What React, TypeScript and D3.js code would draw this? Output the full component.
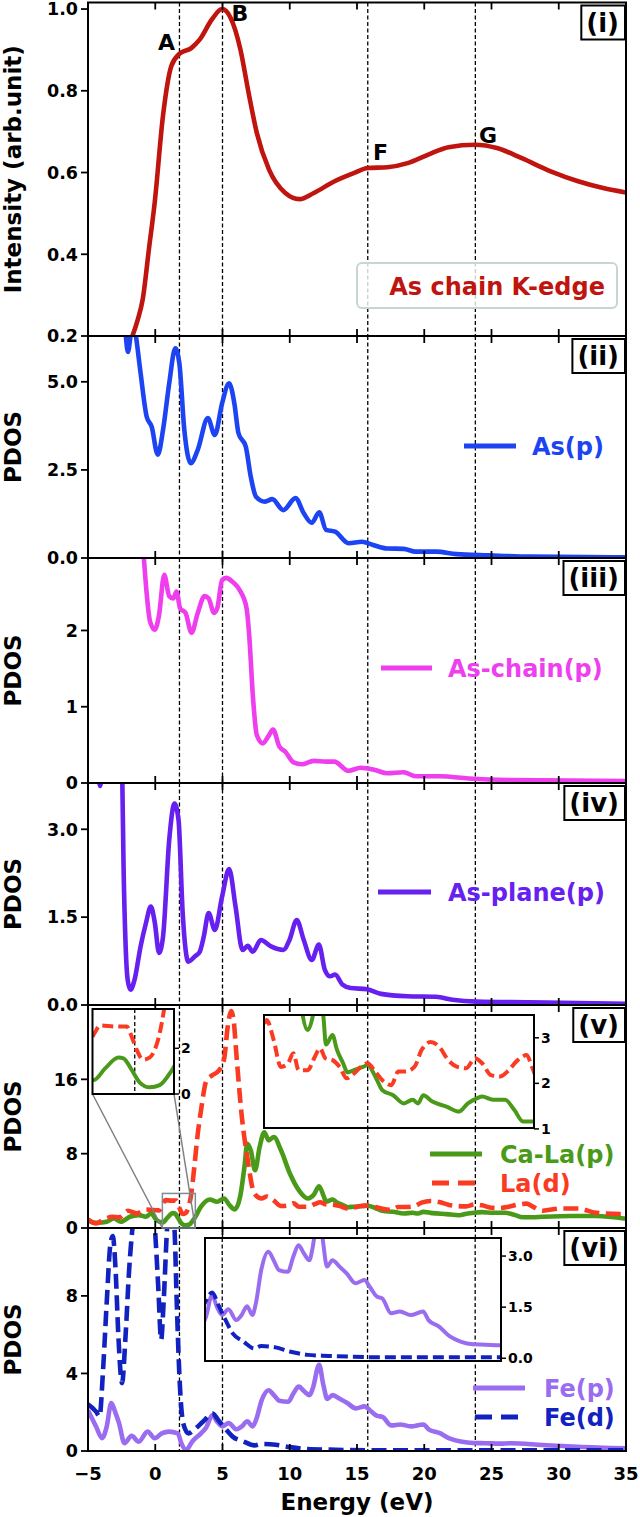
import React, { useEffect, useRef } from 'react';
import * as d3 from 'd3';

type Pt = [number, number];

// ---------- data ----------
const energyTicks = [-5, 0, 5, 10, 15, 20, 25, 30, 35];
const markerEnergies = [1.8, 5.0, 15.8, 23.8];
const markerLabels = ['A', 'B', 'F', 'G'];
const markerLabelE = [0.2, 5.67, 16.19, 24.07];
const markerLabelV = [0.901, 0.97, 0.631, 0.673];

const kEdge: Pt[] = [
  [-2.1, 0.17], [-1.7, 0.2], [-1.3, 0.24], [-0.93, 0.29], [-0.48, 0.41], [-0.03, 0.53],
  [0.58, 0.74], [1.19, 0.86], [1.79, 0.89], [2.7, 0.905], [3.3, 0.925], [4.22, 0.975],
  [4.97, 1.0], [5.58, 0.98], [6.34, 0.9], [6.94, 0.795], [7.55, 0.697], [8.46, 0.607],
  [9.67, 0.55], [10.73, 0.535], [11.79, 0.55], [13.3, 0.578], [14.8, 0.599], [15.8, 0.611],
  [17.25, 0.613], [18.76, 0.623], [20.3, 0.644], [21.8, 0.662], [23.8, 0.668], [25.4, 0.66],
  [27.25, 0.635], [29.4, 0.603], [31.5, 0.578], [33.3, 0.562], [35, 0.551],
];

const asP: Pt[] = [
  [-5, 7.5], [-2.5, 7.0], [-2.25, 6.5], [-2.03, 5.85], [-1.8, 6.4], [-1.6, 6.7], [-1.4, 6.2],
  [-1.09, 5.25], [-0.63, 4.0], [-0.27, 3.73], [0.19, 2.93], [0.58, 3.64], [1.04, 4.96],
  [1.49, 5.95], [1.79, 5.53], [2.16, 3.64], [2.64, 2.69], [3.16, 3.07], [3.91, 3.97],
  [4.43, 3.49], [4.97, 4.39], [5.49, 4.96], [5.88, 4.39], [6.19, 3.54], [6.73, 3.16],
  [7.1, 2.31], [7.49, 1.74], [8.16, 1.6], [8.7, 1.67], [9.52, 1.36], [10.43, 1.7],
  [11.04, 1.27], [11.64, 1.0], [12.19, 1.3], [12.7, 0.8], [13.37, 0.75], [14.37, 0.42],
  [15.37, 0.46], [16.19, 0.37], [17.25, 0.27], [18.46, 0.26], [19.37, 0.18], [20.88, 0.18],
  [22.4, 0.11], [24.8, 0.076], [27.85, 0.04], [35, 0.02],
];

const asChainP: Pt[] = [
  [-5, 4.0], [-1.1, 3.4], [-0.87, 2.99], [-0.63, 2.47], [-0.39, 2.12], [-0.03, 2.01],
  [0.28, 2.2], [0.67, 2.73], [1.04, 2.45], [1.34, 2.42], [1.58, 2.51], [1.85, 2.29],
  [2.25, 2.23], [2.7, 1.97], [3.16, 2.23], [3.67, 2.45], [3.97, 2.42], [4.37, 2.23],
  [4.61, 2.29], [4.97, 2.66], [5.28, 2.69], [5.73, 2.64], [6.34, 2.51], [6.79, 2.29],
  [7.0, 1.9], [7.25, 1.16], [7.55, 0.63], [8.0, 0.52], [8.4, 0.61], [8.76, 0.7],
  [9.22, 0.48], [9.67, 0.41], [10.28, 0.27], [10.88, 0.245], [11.79, 0.29], [12.7, 0.28],
  [13.31, 0.28], [14.37, 0.16], [15.28, 0.2], [16.34, 0.17], [17.25, 0.127], [18.46, 0.14],
  [19.37, 0.088], [21.2, 0.088], [23.3, 0.06], [26.3, 0.04], [35, 0.026],
];

const asPlaneP: Pt[] = [
  [-5, 5.0], [-4.35, 4.2], [-4.1, 3.74], [-3.85, 4.2], [-2.7, 5.0], [-2.45, 3.84],
  [-2.36, 2.42], [-2.2, 1.0], [-2.05, 0.43], [-1.84, 0.26], [-1.54, 0.43], [-1.09, 1.0],
  [-0.69, 1.4], [-0.33, 1.68], [-0.03, 1.4], [0.28, 0.89], [0.58, 1.17], [1.04, 2.82],
  [1.43, 3.44], [1.73, 3.16], [2.04, 1.57], [2.46, 0.74], [2.95, 0.83], [3.31, 0.91],
  [3.61, 1.17], [3.97, 1.57], [4.43, 1.28], [4.97, 1.85], [5.49, 2.32], [5.97, 1.68],
  [6.49, 0.94], [6.88, 1.01], [7.25, 0.91], [7.85, 1.11], [8.61, 1.0], [9.52, 0.94],
  [9.98, 1.11], [10.52, 1.45], [11.04, 1.11], [11.64, 0.77], [12.16, 1.03], [12.61, 0.6],
  [13.0, 0.49], [13.37, 0.52], [13.91, 0.35], [14.52, 0.29], [15.73, 0.27], [16.79, 0.19],
  [18.76, 0.15], [20.88, 0.14], [22.1, 0.09], [23.9, 0.057], [27.85, 0.045], [35, 0.02],
];

const caLaP: Pt[] = [
  [-5, 0.9], [-4.6, 0.6], [-4.27, 0.57], [-3.61, 0.68], [-3.08, 1.04], [-2.55, 0.68],
  [-1.89, 1.21], [-1.23, 1.39], [-0.7, 1.21], [-0.3, 1.57], [0.09, 0.86], [0.57, 0.61],
  [0.91, 1.12], [1.31, 1.6], [1.46, 1.56], [1.71, 1.05], [1.95, 0.5], [2.25, 0.29],
  [2.55, 0.39], [2.92, 1.05], [3.4, 2.29], [4.06, 3.07], [4.59, 2.82], [5.12, 3.18],
  [5.52, 2.46], [5.91, 2.0], [6.31, 3.36], [6.63, 6.57], [6.84, 9.07], [7.1, 8.36],
  [7.42, 6.21], [7.76, 8.71], [8.11, 10.3], [8.43, 9.43], [8.82, 9.79], [9.35, 8.36],
  [10.01, 5.86], [10.67, 4.07], [11.34, 3.17], [11.8, 3.6], [12.18, 4.5], [12.53, 3.4],
  [12.7, 2.85], [13.19, 3.06], [13.5, 2.75], [13.98, 2.44], [14.3, 2.24], [14.77, 2.29],
  [15.44, 2.36], [15.8, 2.4], [16.36, 2.15], [16.89, 1.85], [17.69, 1.74], [18.48, 1.56],
  [19.14, 1.64], [19.54, 1.56], [19.93, 1.74], [20.6, 1.6], [21.65, 1.49], [22.58, 1.38],
  [23.24, 1.56], [23.9, 1.67], [24.3, 1.71], [25.1, 1.64], [26.0, 1.64], [26.68, 1.42],
  [27.34, 1.16], [28.0, 1.16], [28.8, 1.21], [30.91, 1.29], [32.76, 1.29], [35, 1.0],
];

const laD: Pt[] = [
  [-5, 0.9], [-4.4, 0.5], [-3.88, 0.86], [-3.21, 1.21], [-2.69, 1.14], [-2.02, 1.86],
  [-1.36, 1.57], [-0.7, 2.0], [-0.17, 1.93], [0.3, 1.9], [0.59, 2.66], [0.76, 3.0],
  [1.21, 2.95], [1.56, 2.95], [1.71, 2.5], [1.86, 1.93], [2.05, 1.5], [2.25, 1.6],
  [2.4, 1.93], [2.55, 2.66], [2.68, 3.7], [2.9, 6.5], [3.15, 10.0], [3.4, 12.64],
  [3.8, 15.86], [4.19, 16.4], [4.72, 16.93], [5.12, 18.18], [5.38, 21.57], [5.65, 23.36],
  [5.83, 22.3], [6.05, 18.36], [6.44, 11.93], [6.84, 7.64], [7.37, 3.71], [7.9, 3.18],
  [8.3, 3.39], [8.82, 2.95], [9.35, 2.36], [9.88, 2.44], [10.28, 2.66], [10.67, 2.29],
  [11.34, 2.29], [11.87, 2.58], [12.26, 2.77], [12.66, 2.55], [13.19, 2.51], [13.72, 2.36],
  [14.25, 2.11], [14.64, 2.18], [15.3, 2.36], [15.78, 2.44], [16.36, 2.26], [16.89, 2.07],
  [17.55, 1.96], [18.08, 2.26], [18.61, 2.26], [19.27, 2.36], [19.8, 2.73], [20.46, 2.91],
  [21.12, 2.8], [21.78, 2.51], [22.45, 2.36], [23.11, 2.33], [23.77, 2.55], [24.3, 2.44],
  [24.96, 2.18], [25.62, 2.15], [26.28, 2.29], [26.94, 2.51], [27.61, 2.62], [28.0, 2.36],
  [28.8, 1.86], [30.12, 2.1], [31.44, 2.1], [32.76, 1.64], [35, 1.5],
];

const feP: Pt[] = [
  [-5, 2.1], [-4.4, 1.26], [-3.95, 0.66], [-3.61, 1.26], [-3.27, 2.47], [-2.95, 1.95],
  [-2.69, 1.43], [-2.29, 0.4], [-1.76, 0.78], [-1.23, 0.48], [-0.57, 1.0], [-0.04, 0.66],
  [0.49, 0.91], [1.02, 1.0], [1.68, 0.91], [1.94, 0.4], [2.29, 0.05], [2.74, 0.48],
  [3.4, 0.91], [3.8, 1.22], [4.25, 1.86], [4.59, 1.52], [4.99, 1.27], [5.46, 1.44],
  [6.04, 1.12], [6.44, 1.27], [6.84, 1.53], [7.24, 1.27], [7.5, 1.61], [7.9, 2.59],
  [8.43, 3.13], [8.82, 2.88], [9.22, 2.59], [9.88, 2.54], [10.28, 2.98], [10.67, 3.32],
  [11.07, 3.08], [11.47, 2.88], [11.73, 3.27], [12.18, 4.45], [12.5, 3.4], [12.79, 2.69],
  [13.19, 2.88], [13.72, 2.69], [14.25, 2.49], [14.91, 2.2], [15.57, 2.3], [15.96, 2.1],
  [16.5, 1.81], [16.89, 1.76], [17.55, 1.32], [18.21, 1.37], [19.0, 1.27], [19.93, 1.37],
  [20.33, 1.12], [21.12, 0.93], [21.92, 0.64], [22.71, 0.49], [23.64, 0.41], [24.56, 0.4],
  [25.62, 0.38], [26.4, 0.4], [28.8, 0.31], [31.4, 0.22], [35, 0.14],
];

const feD: Pt[] = [
  [-5, 2.4], [-4.4, 2.03], [-4.14, 1.78], [-3.88, 4.19], [-3.61, 7.64], [-3.35, 10.57],
  [-3.16, 11.09], [-2.95, 9.36], [-2.74, 5.91], [-2.47, 3.5], [-2.21, 5.91], [-1.94, 9.36],
  [-1.68, 11.6], [-1.4, 13.0], [-0.3, 13.0], [-0.04, 11.6], [0.22, 8.5], [0.44, 5.74],
  [0.62, 7.64], [0.89, 11.6], [1.1, 13.0], [1.3, 12.2], [1.42, 11.6], [1.6, 7.64],
  [1.81, 3.67], [2.08, 1.43], [2.47, 0.91], [2.87, 1.09], [3.6, 1.55], [4.25, 1.93],
  [4.72, 1.56], [5.25, 1.12], [5.78, 0.73], [6.57, 0.49], [7.37, 0.29], [7.9, 0.36],
  [8.96, 0.32], [10.01, 0.2], [11.34, 0.1], [12.92, 0.07], [16.9, 0.03], [25, 0.03], [35, 0.03],
];

// ---------- layout ----------
const W = 640;
const H = 1517;
const PLOT_L = 88;
const PLOT_R = 626;
const FONT = '"DejaVu Sans", Verdana, sans-serif';
const LW = 4.6;

const panels = [
  { top: 2.5, bottom: 336, domain: [0.2, 1.016], ticks: [0.2, 0.4, 0.6, 0.8, 1.0], fmt: '.1f', tag: '(i)', ylabel: 'Intensity (arb.unit)' },
  { top: 336, bottom: 558, domain: [0, 6.3], ticks: [0, 2.5, 5.0], fmt: '.1f', tag: '(ii)', ylabel: 'PDOS' },
  { top: 558, bottom: 783, domain: [0, 2.95], ticks: [0, 1, 2], fmt: 'd', tag: '(iii)', ylabel: 'PDOS' },
  { top: 783, bottom: 1005, domain: [0, 3.79], ticks: [0, 1.5, 3.0], fmt: '.1f', tag: '(iv)', ylabel: 'PDOS' },
  { top: 1005, bottom: 1228, domain: [0, 24], ticks: [0, 8, 16], fmt: 'd', tag: '(v)', ylabel: 'PDOS' },
  { top: 1228, bottom: 1451, domain: [0, 11.5], ticks: [0, 4, 8], fmt: 'd', tag: '(vi)', ylabel: 'PDOS' },
];

const RED = '#c0140f';
const DASH = '15,6.5';

const series = [
  { panel: 0, data: kEdge, color: RED, dash: null as string | null, legend: null as any },
  { panel: 1, data: asP, color: '#1c44f2', dash: null, legend: { label: 'As(p)', x1: 464, x2: 516, y: 446, tx: 532 } },
  { panel: 2, data: asChainP, color: '#ee3eee', dash: null, legend: { label: 'As-chain(p)', x1: 381, x2: 432, y: 668, tx: 448 } },
  { panel: 3, data: asPlaneP, color: '#6620f0', dash: null, legend: { label: 'As-plane(p)', x1: 378, x2: 431, y: 892, tx: 448 } },
  { panel: 4, data: caLaP, color: '#4a9a1a', dash: null, legend: { label: 'Ca-La(p)', x1: 430, x2: 482, y: 1154, tx: 500 } },
  { panel: 4, data: laD, color: '#fb3a22', dash: DASH, legend: { label: 'La(d)', x1: 432, x2: 475, y: 1183, tx: 500 } },
  { panel: 5, data: feP, color: '#9a6df0', dash: null, legend: { label: 'Fe(p)', x1: 473, x2: 525, y: 1388, tx: 544 } },
  { panel: 5, data: feD, color: '#1222c0', dash: DASH, legend: { label: 'Fe(d)', x1: 475, x2: 519, y: 1417, tx: 544 } },
];

const insets = [
  { panel: 4, box: [264, 1015, 534, 1128], xDomain: [8.1, 28.15], yDomain: [1.02, 3.5], ticks: [1, 2, 3], fmt: 'd', mark: false },
  { panel: 4, box: [92.5, 1009, 174, 1094], xDomain: [0.53, 2.98], yDomain: [0, 3.72], ticks: [0, 2], fmt: 'd', mark: true },
  { panel: 5, box: [205, 1238, 501, 1361], xDomain: [3.72, 25.72], yDomain: [-0.08, 3.53], ticks: [0, 1.5, 3.0], fmt: '.1f', mark: false },
];

export default function App() {
  const ref = useRef<SVGSVGElement>(null);

  useEffect(() => {
    const svg = d3.select(ref.current);
    svg.selectAll('*').remove();
    const defs = svg.append('defs');
    const x = d3.scaleLinear().domain([-5, 35]).range([PLOT_L, PLOT_R]);

    svg.append('rect').attr('width', W).attr('height', H).attr('fill', '#fff');

    const yScales = panels.map((p) => d3.scaleLinear().domain(p.domain).range([p.bottom, p.top]));

    const drawCurve = (g: any, data: Pt[], xs: any, ys: any, color: string, dash: string | null, width: number) => {
      const line = d3.line<Pt>().x((d) => xs(d[0])).y((d) => ys(d[1])).curve(d3.curveMonotoneX);
      g.append('path')
        .attr('d', line(data))
        .attr('fill', 'none')
        .attr('stroke', color)
        .attr('stroke-width', width)
        .attr('stroke-linejoin', 'round')
        .attr('stroke-dasharray', dash);
    };

    panels.forEach((p, i) => {
      const ys = yScales[i];
      const clipId = `clip-${i}`;
      defs.append('clipPath').attr('id', clipId).append('rect')
        .attr('x', PLOT_L).attr('y', p.top).attr('width', PLOT_R - PLOT_L).attr('height', p.bottom - p.top);
      const g = svg.append('g');
      const inner = g.append('g').attr('clip-path', `url(#${clipId})`);

      markerEnergies.forEach((e) => {
        inner.append('line').attr('x1', x(e)).attr('x2', x(e)).attr('y1', p.top).attr('y2', p.bottom)
          .attr('stroke', '#000').attr('stroke-width', 1.3).attr('stroke-dasharray', '4,2.5');
      });

      series.filter((s) => s.panel === i).forEach((s) => drawCurve(inner, s.data, x, ys, s.color, s.dash, LW));

      g.append('rect').attr('x', PLOT_L).attr('y', p.top).attr('width', PLOT_R - PLOT_L).attr('height', p.bottom - p.top)
        .attr('fill', 'none').attr('stroke', '#000').attr('stroke-width', 2);

      energyTicks.forEach((e) => {
        g.append('line').attr('x1', x(e)).attr('x2', x(e)).attr('y1', p.bottom).attr('y2', p.bottom - 7)
          .attr('stroke', '#000').attr('stroke-width', 1.8);
        g.append('line').attr('x1', x(e)).attr('x2', x(e)).attr('y1', p.top).attr('y2', p.top + 7)
          .attr('stroke', '#000').attr('stroke-width', 1.8);
      });

      const f = d3.format(p.fmt);
      p.ticks.forEach((t) => {
        g.append('line').attr('x1', PLOT_L - 7).attr('x2', PLOT_L).attr('y1', ys(t)).attr('y2', ys(t))
          .attr('stroke', '#000').attr('stroke-width', 1.8);
        g.append('text').attr('x', PLOT_L - 10).attr('y', ys(t)).attr('dy', '0.36em')
          .attr('text-anchor', 'end').attr('font-size', 17.5).text(f(t));
      });

      const cy = (p.top + p.bottom) / 2;
      g.append('text').attr('transform', `translate(13,${cy}) rotate(-90)`)
        .attr('text-anchor', 'middle').attr('dy', '0.36em').attr('font-size', 23).text(p.ylabel);
    });

    markerLabels.forEach((lab, k) => {
      svg.append('text').attr('x', x(markerLabelE[k])).attr('y', yScales[0](markerLabelV[k]))
        .attr('font-size', 22).text(lab);
    });

    insets.forEach((ins, k) => {
      const [bx0, by0, bx1, by1] = ins.box;
      const xs = d3.scaleLinear().domain(ins.xDomain).range([bx0, bx1]);
      const ys = d3.scaleLinear().domain(ins.yDomain).range([by1, by0]);
      const py = yScales[ins.panel];
      if (ins.mark) {
        const rx0 = x(ins.xDomain[0]);
        const rx1 = x(ins.xDomain[1]);
        const ry0 = py(ins.yDomain[1]);
        const ry1 = py(ins.yDomain[0]);
        svg.append('rect').attr('x', rx0).attr('y', ry0).attr('width', rx1 - rx0).attr('height', ry1 - ry0)
          .attr('fill', 'none').attr('stroke', '#7d8c96').attr('stroke-width', 1.5);
        svg.append('line').attr('x1', bx0).attr('y1', by1).attr('x2', rx0).attr('y2', ry1)
          .attr('stroke', '#808080').attr('stroke-width', 1.5);
        svg.append('line').attr('x1', bx1).attr('y1', by1).attr('x2', rx1).attr('y2', ry1)
          .attr('stroke', '#808080').attr('stroke-width', 1.5);
      }
      const g = svg.append('g');
      g.append('rect').attr('x', bx0).attr('y', by0).attr('width', bx1 - bx0).attr('height', by1 - by0).attr('fill', '#fff');
      const clipId = `inset-clip-${k}`;
      defs.append('clipPath').attr('id', clipId).append('rect')
        .attr('x', bx0).attr('y', by0).attr('width', bx1 - bx0).attr('height', by1 - by0);
      const inner = g.append('g').attr('clip-path', `url(#${clipId})`);
      markerEnergies.filter((e) => e > ins.xDomain[0] && e < ins.xDomain[1]).forEach((e) => {
        inner.append('line').attr('x1', xs(e)).attr('x2', xs(e)).attr('y1', by0).attr('y2', by1)
          .attr('stroke', '#000').attr('stroke-width', 1.3).attr('stroke-dasharray', '4,2.5');
      });
      series.filter((s) => s.panel === ins.panel).forEach((s) => drawCurve(inner, s.data, xs, ys, s.color, s.dash ? '11,5' : null, 4));
      g.append('rect').attr('x', bx0).attr('y', by0).attr('width', bx1 - bx0).attr('height', by1 - by0)
        .attr('fill', 'none').attr('stroke', '#000').attr('stroke-width', 2);
      const f = d3.format(ins.fmt);
      ins.ticks.forEach((t) => {
        g.append('line').attr('x1', bx1).attr('x2', bx1 + 5).attr('y1', ys(t)).attr('y2', ys(t))
          .attr('stroke', '#000').attr('stroke-width', 1.5);
        g.append('text').attr('x', bx1 + 7).attr('y', ys(t)).attr('dy', '0.36em')
          .attr('font-size', 14).text(f(t));
      });
    });

    series.filter((s) => s.legend).forEach((s) => {
      const L = s.legend;
      svg.append('line').attr('x1', L.x1).attr('x2', L.x2).attr('y1', L.y).attr('y2', L.y)
        .attr('stroke', s.color).attr('stroke-width', 5).attr('stroke-dasharray', s.dash ? '17,9' : null);
      svg.append('text').attr('x', L.tx).attr('y', L.y).attr('dy', '0.36em')
        .attr('font-size', 24).attr('fill', s.color).text(L.label);
    });

    svg.append('rect').attr('x', 357).attr('y', 263).attr('width', 260).attr('height', 45).attr('rx', 5)
      .attr('fill', 'rgba(255,255,255,0.8)').attr('stroke', '#c6d6d6').attr('stroke-width', 2);
    svg.append('text').attr('x', 605).attr('y', 286).attr('dy', '0.36em').attr('text-anchor', 'end')
      .attr('font-size', 24).attr('fill', RED).text('As chain K-edge');

    panels.forEach((p) => {
      const t = svg.append('text').attr('font-size', 26).attr('text-anchor', 'end')
        .attr('x', PLOT_R - 7).attr('y', p.top + 20).attr('dy', '0.36em').text(p.tag);
      const bb = (t.node() as SVGTextElement).getBBox();
      svg.insert('rect', () => t.node() as any)
        .attr('x', PLOT_R - 1 - (bb.width + 11)).attr('y', p.top + 3).attr('width', bb.width + 11).attr('height', 34)
        .attr('fill', '#fff').attr('stroke', '#000').attr('stroke-width', 2);
    });

    const bottom = panels[panels.length - 1].bottom;
    energyTicks.forEach((e) => {
      svg.append('text').attr('x', x(e)).attr('y', bottom + 29).attr('text-anchor', 'middle')
        .attr('font-size', 18).text(e < 0 ? `\u2212${Math.abs(e)}` : `${e}`);
    });
    svg.append('text').attr('x', (PLOT_L + PLOT_R) / 2).attr('y', bottom + 59).attr('text-anchor', 'middle')
      .attr('font-size', 23).text('Energy (eV)');
  }, []);

  return (
    <svg
      ref={ref}
      width={W}
      height={H}
      style={{ position: 'absolute', left: 0, top: 0, fontFamily: FONT, fontWeight: 'bold' }}
    />
  );
}
